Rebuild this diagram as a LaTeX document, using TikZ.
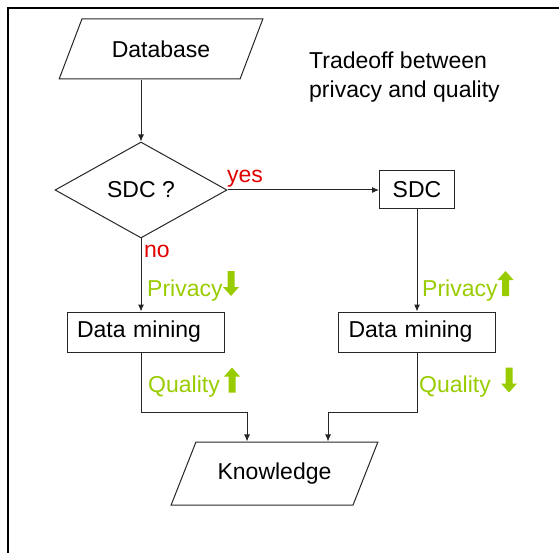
\documentclass[tikz,border=0pt]{standalone}
\usepackage{fontspec}
\setmainfont{Liberation Sans}
\usetikzlibrary{arrows.meta,shapes.geometric,calc}
\definecolor{ink}{HTML}{262626}
\definecolor{lime}{HTML}{99CC00}
\definecolor{alert}{HTML}{E00000}
\tikzset{
  box/.style={draw=ink, line width=1pt, inner sep=0pt, font=\fontsize{23}{28}\selectfont},
  iobox/.style={box, trapezium, trapezium left angle=50, trapezium right angle=130, trapezium stretches=true},
  decide/.style={box, diamond, minimum width=172pt, minimum height=96pt},
  stepbox/.style={box, minimum width=157pt, minimum height=40pt, text width=137pt, align=left, inner xsep=10pt},
  arr/.style={draw=ink, line width=1pt, -{Latex[length=7pt,width=6pt]}},
  lbl/.style={inner sep=0pt, font=\fontsize{23}{29}\selectfont},
  rlbl/.style={lbl, text=alert},
  glbl/.style={lbl, text=lime},
  uparrow/.pic={\fill[lime] (-3.5,12.5) -- (-3.5,-3.5) -- (-8,-3.5) -- (0,-12.5) -- (8,-3.5) -- (3.5,-3.5) -- (3.5,12.5) -- cycle;}
}
\begin{document}
\begin{tikzpicture}[x=1pt, y=-1pt]
  \useasboundingbox (0,0) rectangle (559,553);
  \draw[line width=2.5pt] (8,553) -- (8,8) -- (559,8);

  \node[iobox, minimum width=204pt, minimum height=60pt] (db) at (161,49) {Database};
  \node[decide] (sdcq) at (141,190) {SDC ?};
  \node[box, minimum width=75pt, minimum height=38pt] (sdc) at (417,190) {SDC};
  \node[stepbox] (dml) at (145.5,332) {Data mining};
  \node[stepbox] (dmr) at (417,332) {Data mining};
  \node[iobox, minimum width=207pt, minimum height=63pt] (kn) at (274.5,473.5) {Knowledge};

  \node[lbl, anchor=north west, align=left] (trade) at (309,52) {Tradeoff between\\privacy and quality};

  \coordinate (kl) at ([xshift=-27.5pt]kn.north);
  \coordinate (kr) at ([xshift=53.5pt]kn.north);

  \draw[arr] (sdcq.north |- db.south) -- (sdcq.north);
  \draw[arr] (sdcq.east) -- (sdcq.east -| sdc.west);
  \draw[arr] (sdcq.south) -- (sdcq.south |- dml.north);
  \draw[arr] (sdc.south) -- (dmr.north);
  \draw[arr] (dml.south -| sdcq.south) -- ++(0,60) -| (kl);
  \draw[arr] (dmr.south) -- ++(0,60) -| (kr);

  \node[rlbl, anchor=base west] (yes) at (227,183) {yes};
  \node[rlbl, anchor=base west] (no) at (144,258) {no};
  \node[glbl, anchor=base west] (privl) at (147,296) {Privacy};
  \node[glbl, anchor=base west] (privr) at (422,296) {Privacy};
  \node[glbl, anchor=base west] (quall) at (148,392) {Quality};
  \node[glbl, anchor=base west] (qualr) at (419,392) {Quality};

  % trade-off arrows
  \pic[rotate=180] at (231,283.5) {uparrow};
  \pic at (505.5,283.5) {uparrow};
  \pic at (232,380) {uparrow};
  \pic[rotate=180] at (509,380) {uparrow};
\end{tikzpicture}
\end{document}
